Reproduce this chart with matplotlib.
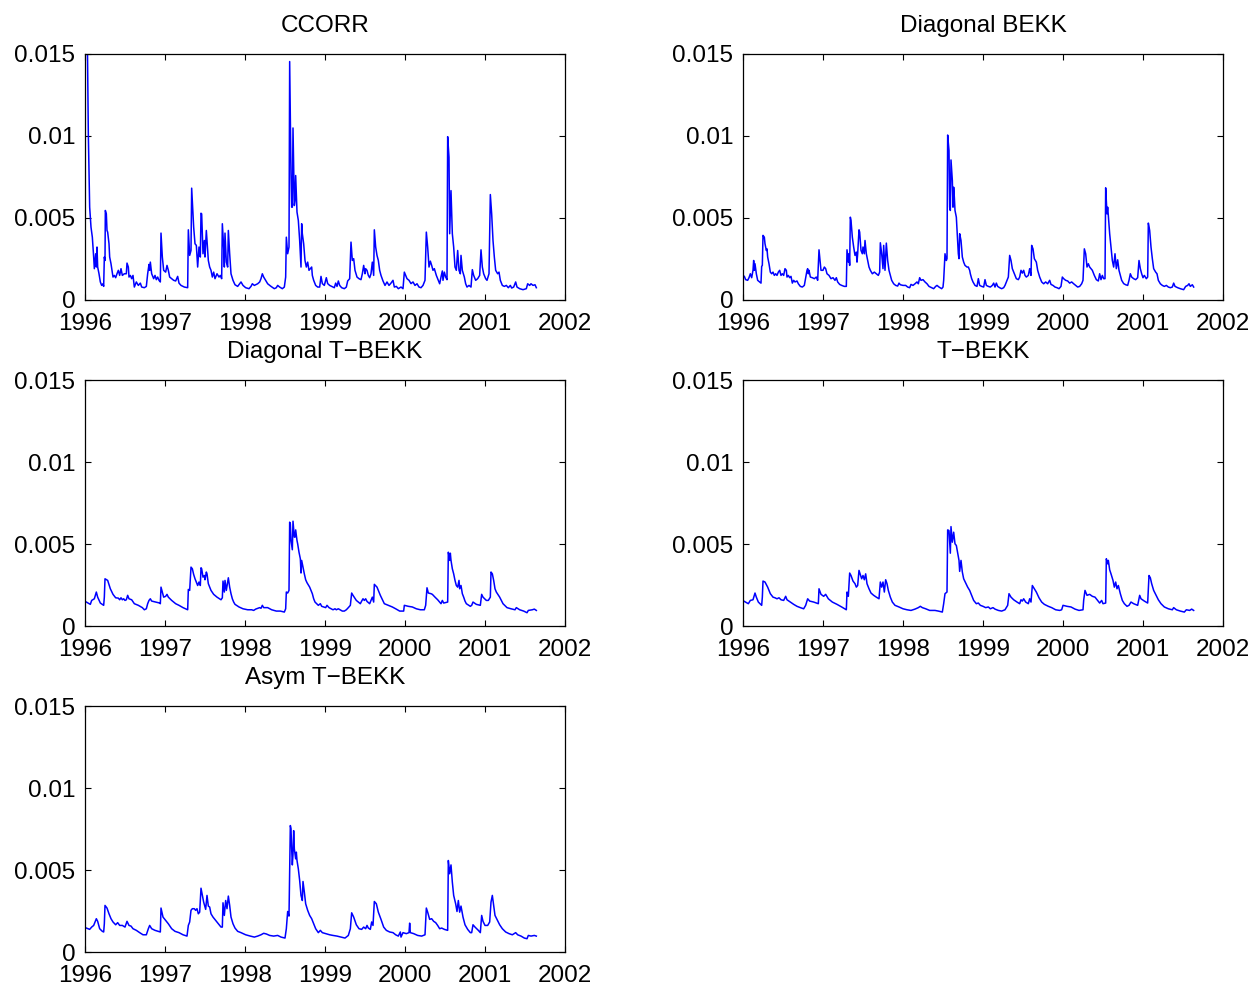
import matplotlib
matplotlib.use("Agg")
import matplotlib.pyplot as plt
import numpy as np

plt.rcParams['font.family'] = ['Liberation Sans', 'DejaVu Sans']

# Each series: (months since Jan 1996, conditional variance in units of 1e-3)
ccorr = [(0.35, 16.0), (0.5, 10.1), (0.7, 5.66), (0.9, 4.44), (1.1, 3.83), (1.3, 2.62), (1.4, 1.91), (1.6, 2.82), (1.7, 2.01), (1.8, 3.23),
         (1.9, 2.01), (2.1, 1.6), (2.3, 1.1), (2.5, 0.89), (2.7, 0.99), (2.8, 0.83), (2.9, 2.62), (3.0, 2.41), (3.05, 5.46), (3.2, 5.25),
         (3.3, 4.24), (3.4, 4.14), (3.6, 3.43), (3.7, 2.62), (3.9, 2.21), (4.2, 1.4), (4.4, 1.5), (4.6, 1.36), (4.8, 1.6), (5.0, 1.81),
         (5.2, 1.5), (5.4, 1.91), (5.6, 1.5), (5.9, 1.6), (6.2, 1.6), (6.3, 2.25), (6.5, 2.01), (6.6, 1.4), (6.8, 1.5), (7.0, 1.3),
         (7.2, 1.5), (7.4, 0.79), (7.7, 1.1), (8.0, 0.89), (8.3, 1.03), (8.5, 0.79), (8.9, 0.75), (9.2, 0.83), (9.4, 1.6), (9.6, 2.17),
         (9.7, 1.81), (9.8, 2.31), (10.0, 1.6), (10.3, 1.3), (10.5, 1.5), (10.7, 1.24), (10.9, 1.4), (11.1, 1.2), (11.3, 1.1), (11.4, 4.08),
         (11.6, 2.62), (11.8, 1.81), (12.1, 1.7), (12.3, 2.11), (12.5, 1.81), (12.7, 1.4), (13.0, 1.3), (13.3, 1.2), (13.6, 1.16), (13.9, 1.44),
         (14.1, 1.03), (14.4, 0.89), (14.9, 0.79), (15.4, 0.75), (15.5, 4.28), (15.7, 2.72), (15.9, 3.02), (16.0, 6.82), (16.1, 6.06), (16.3, 4.44),
         (16.5, 3.43), (16.7, 3.33), (16.9, 2.01), (17.1, 3.23), (17.3, 2.62), (17.4, 5.29), (17.5, 5.25), (17.7, 2.82), (17.9, 3.63), (18.0, 2.62),
         (18.2, 4.24), (18.3, 3.63), (18.5, 2.41), (18.7, 2.01), (18.9, 1.81), (19.1, 1.4), (19.3, 1.7), (19.5, 1.3), (19.8, 1.6), (20.1, 1.4),
         (20.3, 1.5), (20.5, 1.3), (20.6, 4.65), (20.8, 3.23), (20.9, 2.01), (21.0, 4.08), (21.2, 2.31), (21.4, 2.01), (21.5, 4.24), (21.7, 2.82),
         (21.9, 1.6), (22.2, 1.2), (22.5, 0.93), (22.9, 0.83), (23.4, 1.1), (23.7, 0.89), (24.1, 0.75), (24.6, 0.69), (24.9, 0.83), (25.1, 0.99),
         (25.4, 0.89), (25.9, 0.99), (26.2, 1.1), (26.4, 1.3), (26.6, 1.6), (26.8, 1.4), (27.1, 1.2), (27.4, 0.99), (27.9, 0.83), (28.4, 0.69),
         (28.7, 0.75), (28.9, 0.89), (29.2, 0.79), (29.6, 0.69), (29.9, 0.79), (30.1, 1.4), (30.2, 3.83), (30.4, 2.82), (30.6, 3.23), (30.7, 14.54),
         (30.9, 7.69), (31.0, 5.66), (31.1, 5.66), (31.2, 10.49), (31.4, 5.76), (31.5, 6.06), (31.6, 7.59), (31.8, 5.36), (32.0, 4.85), (32.2, 3.63),
         (32.4, 2.01), (32.5, 4.65), (32.6, 4.04), (32.8, 3.43), (33.0, 2.41), (33.2, 2.01), (33.4, 2.31), (33.6, 1.81), (33.8, 1.91), (34.0, 2.01),
         (34.1, 1.5), (34.3, 1.2), (34.6, 0.89), (34.9, 0.79), (35.2, 0.79), (35.4, 1.44), (35.6, 1.0), (35.9, 0.89), (36.2, 1.36), (36.4, 1.0),
         (36.7, 0.89), (37.0, 0.83), (37.4, 0.75), (37.6, 1.03), (37.8, 0.83), (38.0, 1.16), (38.2, 0.89), (38.5, 0.75), (38.9, 0.69), (39.2, 0.79),
         (39.4, 1.16), (39.7, 1.3), (39.9, 3.53), (40.1, 2.41), (40.3, 2.52), (40.5, 1.81), (40.8, 1.4), (41.1, 1.3), (41.4, 1.24), (41.6, 1.6),
         (41.8, 2.11), (42.0, 1.6), (42.1, 1.91), (42.3, 1.81), (42.5, 1.5), (42.7, 1.36), (42.9, 1.6), (43.1, 2.31), (43.3, 1.5), (43.4, 4.28),
         (43.6, 3.23), (43.8, 2.72), (44.0, 2.41), (44.2, 1.81), (44.4, 1.5), (44.7, 1.16), (45.0, 0.89), (45.3, 1.1), (45.6, 0.89), (45.9, 1.03),
         (46.2, 1.2), (46.4, 0.79), (46.7, 0.83), (47.0, 0.69), (47.4, 0.79), (47.7, 0.69), (47.9, 1.7), (48.1, 1.5), (48.3, 1.3), (48.6, 1.2),
         (48.9, 1.0), (49.2, 1.1), (49.5, 0.89), (49.8, 0.99), (50.1, 0.79), (50.4, 0.75), (50.7, 0.89), (51.0, 1.2), (51.2, 4.14), (51.4, 3.23),
         (51.6, 2.01), (51.8, 2.37), (52.0, 2.11), (52.2, 1.81), (52.4, 1.91), (52.7, 1.5), (52.9, 1.3), (53.2, 0.99), (53.4, 1.4), (53.6, 1.77),
         (53.7, 1.2), (53.9, 1.7), (54.1, 1.4), (54.3, 1.24), (54.4, 9.96), (54.6, 8.70), (54.7, 4.04), (54.9, 6.67), (55.1, 4.04), (55.3, 3.23),
         (55.5, 2.01), (55.7, 1.81), (55.9, 3.02), (56.1, 1.81), (56.3, 1.6), (56.4, 2.72), (56.6, 1.81), (56.9, 1.4), (57.1, 0.99), (57.3, 0.79),
         (57.6, 0.89), (57.9, 0.79), (58.1, 1.85), (58.3, 1.5), (58.6, 1.2), (58.9, 1.3), (59.2, 1.5), (59.4, 3.06), (59.6, 2.01), (59.8, 1.6),
         (60.1, 1.3), (60.3, 1.2), (60.6, 1.6), (60.8, 6.43), (61.0, 5.25), (61.2, 3.63), (61.4, 2.62), (61.6, 1.81), (61.9, 1.6), (62.1, 1.7),
         (62.3, 1.2), (62.6, 0.89), (62.9, 0.83), (63.2, 0.89), (63.5, 0.75), (63.8, 0.89), (64.0, 0.73), (64.3, 0.79), (64.6, 1.1), (64.8, 0.79),
         (65.2, 0.69), (65.7, 0.63), (66.2, 0.69), (66.4, 0.99), (66.7, 0.89), (66.9, 0.99), (67.2, 0.89), (67.5, 0.93), (67.7, 0.75)]

diag_bekk = [(0.2, 1.44), (0.4, 1.24), (0.7, 1.20), (0.9, 1.36), (1.1, 1.60), (1.3, 1.36), (1.5, 1.81), (1.6, 2.41), (1.7, 1.81), (1.8, 2.21),
             (2.0, 1.60), (2.2, 1.20), (2.5, 1.10), (2.7, 1.03), (2.8, 2.05), (2.9, 2.11), (3.0, 3.94), (3.2, 3.83), (3.3, 3.43), (3.5, 3.02),
             (3.6, 3.12), (3.7, 2.62), (3.9, 2.21), (4.1, 1.70), (4.3, 1.60), (4.5, 1.70), (4.7, 1.50), (4.9, 1.60), (5.1, 1.50), (5.3, 1.70),
             (5.5, 1.81), (5.7, 1.50), (5.9, 1.60), (6.1, 1.50), (6.3, 1.91), (6.5, 1.81), (6.6, 1.40), (6.8, 1.50), (7.0, 1.36), (7.2, 1.44),
             (7.4, 1.03), (7.6, 1.20), (7.8, 1.10), (8.1, 1.16), (8.3, 0.99), (8.6, 0.83), (8.9, 0.79), (9.2, 0.89), (9.4, 1.36), (9.6, 1.81),
             (9.7, 1.91), (9.8, 1.60), (9.9, 1.81), (10.1, 1.40), (10.4, 1.36), (10.7, 1.30), (11.0, 1.40), (11.2, 1.20), (11.4, 3.06), (11.5, 2.62),
             (11.7, 1.81), (12.0, 1.81), (12.2, 2.01), (12.4, 1.91), (12.6, 1.60), (12.9, 1.50), (13.2, 1.30), (13.5, 1.36), (13.8, 1.20), (14.0, 1.36),
             (14.2, 1.10), (14.5, 0.95), (14.8, 0.89), (15.2, 0.83), (15.5, 0.83), (15.6, 3.06), (15.8, 2.31), (15.9, 2.82), (16.0, 2.11), (16.1, 5.05),
             (16.2, 4.85), (16.4, 3.83), (16.6, 3.23), (16.8, 2.72), (17.0, 2.92), (17.1, 2.31), (17.2, 2.82), (17.4, 4.28), (17.5, 4.14), (17.7, 3.02),
             (17.9, 2.82), (18.0, 3.23), (18.2, 2.82), (18.3, 3.63), (18.5, 2.82), (18.7, 2.41), (18.9, 2.01), (19.1, 1.81), (19.4, 1.60), (19.7, 1.70),
             (20.0, 1.60), (20.3, 1.50), (20.5, 1.70), (20.6, 3.49), (20.8, 2.82), (21.0, 1.91), (21.1, 3.33), (21.3, 1.81), (21.5, 3.47), (21.7, 2.41),
             (21.9, 1.81), (22.1, 1.50), (22.3, 1.20), (22.6, 0.99), (22.9, 0.89), (23.2, 0.85), (23.4, 1.03), (23.6, 0.93), (24.0, 0.89), (24.4, 0.89),
             (24.7, 0.79), (25.0, 0.75), (25.2, 0.95), (25.5, 0.89), (25.8, 0.99), (26.1, 1.10), (26.3, 0.99), (26.5, 1.36), (26.7, 1.20), (27.0, 1.24),
             (27.3, 1.10), (27.6, 0.99), (27.9, 0.83), (28.3, 0.75), (28.6, 0.69), (28.9, 0.83), (29.1, 0.89), (29.4, 0.79), (29.8, 0.69), (30.0, 0.79),
             (30.1, 1.20), (30.3, 2.82), (30.5, 2.41), (30.6, 2.52), (30.7, 10.06), (30.9, 9.11), (31.0, 5.66), (31.1, 5.46), (31.2, 8.54), (31.4, 7.30),
             (31.5, 5.66), (31.6, 6.88), (31.7, 6.27), (31.8, 5.46), (32.0, 5.05), (32.2, 3.63), (32.3, 2.82), (32.4, 2.52), (32.5, 4.04), (32.7, 3.63),
             (32.9, 2.62), (33.1, 2.31), (33.3, 2.11), (33.6, 2.01), (33.8, 2.01), (34.0, 1.81), (34.1, 1.60), (34.3, 1.30), (34.5, 1.10), (34.8, 0.89),
             (35.1, 0.83), (35.3, 1.30), (35.5, 0.89), (35.8, 0.83), (36.1, 0.79), (36.3, 1.24), (36.5, 0.89), (36.8, 0.83), (37.1, 0.79), (37.4, 0.89),
             (37.6, 1.03), (37.8, 0.79), (38.0, 1.03), (38.2, 0.83), (38.5, 0.75), (38.8, 0.69), (39.1, 0.75), (39.3, 0.89), (39.6, 1.20), (39.8, 1.40),
             (40.0, 2.72), (40.2, 2.41), (40.4, 1.91), (40.7, 1.60), (41.0, 1.30), (41.3, 1.24), (41.5, 1.40), (41.7, 1.81), (41.9, 1.64), (42.1, 1.81),
             (42.3, 1.50), (42.5, 1.40), (42.8, 1.50), (43.0, 1.91), (43.2, 1.50), (43.3, 3.33), (43.5, 3.12), (43.7, 2.52), (44.0, 2.31), (44.2, 1.81),
             (44.5, 1.40), (44.8, 1.10), (45.1, 0.99), (45.4, 1.10), (45.7, 0.99), (46.0, 1.20), (46.2, 0.95), (46.5, 0.89), (46.8, 0.79), (47.1, 0.75),
             (47.4, 0.69), (47.7, 0.83), (47.9, 1.40), (48.1, 1.30), (48.4, 1.20), (48.7, 1.16), (49.0, 1.03), (49.3, 1.10), (49.6, 0.99), (49.9, 0.89),
             (50.2, 0.79), (50.5, 0.83), (50.8, 0.99), (51.0, 1.20), (51.2, 3.12), (51.4, 2.82), (51.6, 2.01), (51.8, 2.21), (52.0, 2.01), (52.2, 1.91),
             (52.4, 1.81), (52.7, 1.50), (53.0, 1.24), (53.3, 1.16), (53.5, 1.60), (53.7, 1.24), (53.9, 1.50), (54.1, 1.30), (54.3, 1.30), (54.4, 6.84),
             (54.6, 5.25), (54.7, 5.66), (54.8, 5.15), (55.0, 4.04), (55.2, 3.23), (55.4, 2.41), (55.6, 2.01), (55.8, 2.82), (56.0, 1.91), (56.2, 2.45),
             (56.4, 1.81), (56.6, 1.50), (56.8, 1.20), (57.1, 1.00), (57.4, 0.93), (57.7, 0.89), (57.9, 1.20), (58.1, 1.60), (58.3, 1.40), (58.6, 1.30),
             (58.9, 1.24), (59.2, 1.36), (59.4, 2.41), (59.6, 1.91), (59.8, 1.60), (60.0, 1.36), (60.2, 1.50), (60.5, 1.30), (60.7, 1.40), (60.8, 4.69),
             (61.0, 4.24), (61.2, 3.23), (61.4, 2.52), (61.6, 1.91), (61.9, 1.70), (62.1, 1.60), (62.3, 1.20), (62.6, 0.99), (62.9, 0.89), (63.2, 0.83),
             (63.5, 0.89), (63.8, 0.79), (64.1, 0.75), (64.4, 0.79), (64.6, 1.03), (64.8, 0.83), (65.2, 0.75), (65.6, 0.69), (66.1, 0.63), (66.4, 0.83),
             (66.7, 0.89), (66.9, 0.99), (67.1, 0.83), (67.4, 0.93), (67.6, 0.79)]

diag_tbekk = [(0.2, 1.46), (0.8, 1.32), (1.0, 1.56), (1.4, 1.66), (1.7, 2.07), (1.9, 1.76), (2.3, 1.40), (2.8, 1.26), (2.9, 1.76), (3.0, 2.88),
              (3.4, 2.78), (3.8, 2.27), (4.2, 1.93), (4.6, 1.72), (5.0, 1.70), (5.2, 1.60), (5.4, 1.72), (5.6, 1.60), (5.8, 1.66), (6.0, 1.56),
              (6.2, 1.60), (6.4, 1.87), (6.6, 1.66), (7.0, 1.60), (7.4, 1.36), (8.0, 1.26), (8.6, 1.12), (8.9, 0.99), (9.2, 1.05), (9.4, 1.36),
              (9.6, 1.56), (9.8, 1.66), (10.0, 1.52), (10.6, 1.46), (11.2, 1.40), (11.3, 1.36), (11.4, 2.37), (11.6, 2.07), (11.8, 1.76), (12.1, 1.81),
              (12.3, 1.93), (12.5, 1.76), (13.0, 1.56), (13.6, 1.36), (14.1, 1.26), (14.7, 1.12), (15.4, 0.99), (15.5, 2.23), (15.7, 2.17), (15.9, 3.59),
              (16.1, 3.49), (16.3, 3.14), (16.5, 2.88), (16.7, 2.68), (16.9, 2.47), (17.1, 2.68), (17.3, 2.47), (17.4, 3.55), (17.5, 3.49), (17.7, 2.98),
              (17.9, 3.08), (18.0, 2.82), (18.2, 3.29), (18.3, 3.18), (18.5, 2.58), (18.7, 2.37), (18.9, 2.17), (19.3, 1.93), (19.8, 1.76), (20.4, 1.60),
              (20.6, 1.72), (20.7, 2.74), (20.9, 2.07), (21.0, 2.78), (21.2, 2.17), (21.4, 2.68), (21.5, 2.94), (21.7, 2.37), (21.9, 1.97), (22.1, 1.66),
              (22.3, 1.46), (22.5, 1.32), (23.1, 1.16), (23.7, 1.05), (24.4, 0.99), (25.0, 0.99), (25.3, 0.95), (25.6, 1.03), (26.2, 1.12), (26.4, 1.08),
              (26.6, 1.26), (26.8, 1.12), (27.4, 1.12), (28.0, 0.99), (28.7, 0.91), (29.3, 0.91), (29.9, 0.85), (30.1, 1.05), (30.2, 2.07), (30.4, 2.01),
              (30.6, 2.17), (30.7, 6.33), (30.8, 6.23), (30.9, 5.21), (31.1, 4.65), (31.2, 6.39), (31.4, 5.42), (31.5, 5.42), (31.6, 5.86), (31.8, 5.21),
              (31.9, 5.01), (32.1, 4.50), (32.3, 4.10), (32.4, 3.23), (32.5, 4.00), (32.7, 3.59), (32.9, 3.18), (33.1, 2.82), (33.3, 2.64), (33.7, 2.37),
              (33.9, 2.17), (34.1, 1.97), (34.3, 1.66), (34.5, 1.46), (35.0, 1.26), (35.3, 1.36), (35.5, 1.20), (36.1, 1.12), (36.3, 1.26), (36.6, 1.12),
              (37.2, 0.99), (37.5, 1.05), (37.7, 0.99), (38.0, 1.05), (38.6, 0.91), (38.9, 0.91), (39.2, 0.99), (39.5, 1.12), (39.8, 1.26), (40.0, 2.01),
              (40.2, 1.87), (40.7, 1.56), (41.3, 1.36), (41.5, 1.52), (41.7, 1.66), (41.9, 1.56), (42.1, 1.66), (42.3, 1.50), (42.7, 1.36), (42.9, 1.56),
              (43.1, 1.76), (43.3, 1.46), (43.4, 2.54), (43.8, 2.37), (44.3, 1.87), (44.9, 1.36), (45.5, 1.26), (46.1, 1.16), (46.6, 1.05), (47.2, 0.91),
              (47.8, 0.91), (47.9, 1.26), (48.5, 1.20), (49.1, 1.16), (49.7, 1.05), (50.3, 0.99), (50.9, 0.99), (51.1, 1.26), (51.3, 2.33), (51.5, 2.01),
              (51.9, 1.97), (52.1, 1.93), (52.5, 1.76), (52.9, 1.60), (53.4, 1.36), (53.6, 1.56), (53.8, 1.40), (54.4, 1.46), (54.5, 4.50), (54.7, 4.00),
              (54.8, 4.44), (54.9, 4.00), (55.1, 3.49), (55.3, 3.18), (55.5, 2.78), (55.7, 2.47), (55.9, 2.37), (56.1, 2.78), (56.2, 2.27), (56.4, 2.47),
              (56.6, 1.97), (56.8, 1.76), (57.0, 1.52), (57.2, 1.36), (57.8, 1.20), (58.0, 1.26), (58.2, 1.46), (58.7, 1.32), (59.3, 1.26), (59.5, 1.93),
              (59.7, 1.76), (60.2, 1.56), (60.5, 1.56), (60.8, 1.76), (60.9, 3.29), (61.1, 3.18), (61.3, 2.78), (61.5, 2.27), (61.7, 2.07), (62.2, 1.76),
              (62.7, 1.36), (63.3, 1.12), (63.9, 1.05), (64.5, 0.99), (64.7, 1.12), (65.2, 0.99), (65.8, 0.91), (66.3, 0.81), (66.5, 0.95), (67.1, 0.99),
              (67.4, 1.03), (67.7, 0.95)]

tbekk = [(0.2, 1.50), (0.8, 1.36), (1.1, 1.56), (1.5, 1.60), (1.8, 2.01), (2.0, 1.76), (2.3, 1.46), (2.8, 1.26), (2.9, 1.76), (3.0, 2.74),
         (3.3, 2.68), (3.7, 2.37), (4.1, 1.97), (4.5, 1.76), (4.8, 1.72), (5.1, 1.66), (5.4, 1.72), (5.7, 1.60), (6.1, 1.56), (6.4, 1.81),
         (6.6, 1.60), (7.1, 1.46), (7.6, 1.32), (8.1, 1.20), (8.6, 1.12), (9.1, 1.05), (9.4, 1.26), (9.7, 1.66), (10.0, 1.52), (10.6, 1.46),
         (11.3, 1.36), (11.4, 2.27), (11.7, 1.93), (12.1, 1.81), (12.4, 1.93), (12.8, 1.66), (13.4, 1.46), (14.1, 1.32), (14.8, 1.16), (15.5, 0.99),
         (15.6, 2.07), (15.8, 1.81), (16.0, 3.23), (16.2, 3.08), (16.5, 2.74), (16.8, 2.58), (17.0, 2.37), (17.2, 2.47), (17.4, 3.39), (17.6, 3.14),
         (17.8, 2.88), (18.0, 3.08), (18.2, 2.82), (18.4, 3.18), (18.6, 2.58), (18.9, 2.27), (19.2, 2.01), (19.6, 1.87), (20.0, 1.76), (20.4, 1.66),
         (20.6, 2.68), (20.8, 2.37), (21.0, 2.68), (21.2, 2.07), (21.4, 2.82), (21.6, 2.58), (21.8, 2.17), (22.1, 1.76), (22.4, 1.46), (22.8, 1.26),
         (23.4, 1.16), (24.0, 1.05), (24.6, 0.99), (25.2, 0.95), (25.8, 1.03), (26.3, 1.12), (26.6, 1.20), (26.9, 1.12), (27.4, 1.05), (28.0, 0.95),
         (28.8, 0.95), (29.3, 0.91), (29.9, 0.85), (30.1, 1.36), (30.3, 1.97), (30.6, 2.07), (30.7, 5.86), (30.9, 5.82), (31.1, 4.44), (31.2, 6.06),
         (31.4, 5.11), (31.6, 5.72), (31.8, 5.01), (32.0, 4.91), (32.2, 4.44), (32.4, 4.00), (32.5, 3.33), (32.7, 4.00), (32.9, 3.29), (33.1, 2.88),
         (33.4, 2.62), (33.7, 2.37), (34.0, 2.17), (34.3, 1.87), (34.6, 1.56), (35.0, 1.36), (35.3, 1.40), (35.6, 1.26), (36.0, 1.20), (36.4, 1.12),
         (36.8, 1.16), (37.1, 1.05), (37.5, 1.12), (37.8, 1.03), (38.3, 0.95), (38.8, 0.91), (39.3, 0.99), (39.7, 1.26), (39.9, 1.97), (40.2, 1.76),
         (40.6, 1.60), (41.1, 1.46), (41.5, 1.36), (41.7, 1.60), (41.9, 1.52), (42.1, 1.66), (42.4, 1.46), (42.8, 1.36), (43.0, 1.66), (43.2, 1.46),
         (43.4, 2.47), (43.7, 2.27), (44.0, 2.07), (44.4, 1.72), (44.8, 1.46), (45.2, 1.32), (45.8, 1.20), (46.3, 1.12), (46.9, 0.99), (47.5, 0.95),
         (47.8, 0.99), (48.0, 1.26), (48.6, 1.20), (49.2, 1.16), (49.8, 1.03), (50.4, 0.95), (51.0, 0.99), (51.1, 1.56), (51.3, 2.17), (51.6, 1.87),
         (52.0, 1.93), (52.4, 1.81), (52.8, 1.76), (53.2, 1.56), (53.5, 1.40), (53.8, 1.56), (54.0, 1.36), (54.4, 1.40), (54.5, 4.10), (54.7, 3.79),
         (54.8, 4.00), (55.0, 3.43), (55.2, 3.18), (55.5, 2.78), (55.7, 2.37), (55.9, 2.68), (56.1, 2.27), (56.3, 2.47), (56.6, 1.97), (56.9, 1.56),
         (57.2, 1.36), (57.6, 1.20), (57.9, 1.26), (58.2, 1.46), (58.6, 1.36), (59.2, 1.26), (59.5, 1.87), (59.7, 1.66), (60.2, 1.52), (60.7, 1.40),
         (60.9, 3.08), (61.1, 2.94), (61.3, 2.58), (61.6, 2.17), (61.9, 1.93), (62.3, 1.60), (62.7, 1.36), (63.2, 1.16), (63.8, 1.05), (64.4, 0.99),
         (64.6, 1.12), (65.0, 0.99), (65.6, 0.91), (66.2, 0.85), (66.5, 0.99), (67.0, 0.95), (67.3, 1.03), (67.6, 0.95)]

asym_tbekk = [(0.2, 1.46), (0.7, 1.38), (1.0, 1.52), (1.3, 1.62), (1.5, 1.83), (1.7, 2.03), (1.9, 1.87), (2.2, 1.42), (2.6, 1.26), (2.8, 1.22),
              (2.9, 1.72), (3.0, 2.84), (3.3, 2.68), (3.6, 2.33), (3.9, 2.03), (4.2, 1.83), (4.6, 1.66), (4.9, 1.79), (5.2, 1.62), (5.6, 1.62),
              (6.0, 1.52), (6.3, 1.87), (6.6, 1.62), (6.9, 1.58), (7.2, 1.42), (7.7, 1.32), (8.2, 1.18), (8.7, 1.05), (9.2, 1.05), (9.5, 1.42),
              (9.7, 1.62), (10.0, 1.42), (10.5, 1.32), (11.0, 1.26), (11.3, 1.22), (11.4, 2.68), (11.7, 2.13), (12.1, 1.93), (12.5, 1.72), (13.0, 1.42),
              (13.5, 1.26), (14.1, 1.18), (14.7, 1.05), (15.3, 0.97), (15.5, 1.62), (15.7, 1.83), (15.9, 2.54), (16.1, 2.64), (16.4, 2.64), (16.6, 2.54),
              (16.8, 2.64), (17.0, 2.33), (17.2, 2.43), (17.4, 3.89), (17.6, 3.45), (17.8, 3.04), (18.1, 2.60), (18.3, 3.45), (18.5, 2.80), (18.7, 2.74),
              (18.9, 2.33), (19.2, 2.13), (19.6, 1.93), (20.0, 1.72), (20.4, 1.52), (20.6, 1.52), (20.7, 3.00), (20.9, 2.23), (21.1, 3.14), (21.3, 2.64),
              (21.5, 3.41), (21.7, 2.84), (21.9, 2.13), (22.2, 1.72), (22.5, 1.46), (22.9, 1.26), (23.4, 1.18), (24.1, 1.05), (24.8, 0.97), (25.4, 0.91),
              (25.9, 0.97), (26.4, 1.05), (26.8, 1.14), (27.2, 1.10), (27.7, 1.01), (28.3, 0.97), (28.9, 1.01), (29.4, 0.91), (30.0, 0.85), (30.2, 1.42),
              (30.4, 2.47), (30.6, 2.19), (30.8, 7.71), (30.9, 7.51), (31.0, 6.29), (31.1, 5.31), (31.2, 5.98), (31.3, 7.40), (31.4, 6.29), (31.6, 5.68),
              (31.7, 6.09), (31.8, 5.58), (32.0, 5.07), (32.2, 4.36), (32.4, 3.45), (32.6, 3.14), (32.7, 4.30), (32.9, 3.65), (33.1, 2.94), (33.4, 2.54),
              (33.7, 2.23), (34.0, 2.03), (34.3, 1.72), (34.6, 1.42), (35.0, 1.18), (35.3, 1.32), (35.6, 1.18), (36.1, 1.12), (36.7, 1.05), (37.2, 1.01),
              (37.8, 0.97), (38.4, 0.91), (39.0, 0.85), (39.5, 1.01), (39.8, 1.42), (40.0, 2.39), (40.3, 2.13), (40.7, 1.66), (41.1, 1.42), (41.5, 1.38),
              (41.8, 1.52), (42.1, 1.42), (42.3, 1.62), (42.5, 1.46), (42.8, 1.38), (43.0, 1.83), (43.2, 1.62), (43.4, 3.08), (43.7, 2.94), (44.0, 2.43),
              (44.4, 1.99), (44.8, 1.52), (45.2, 1.32), (45.7, 1.22), (46.2, 1.18), (46.6, 1.05), (47.0, 0.97), (47.3, 1.22), (47.4, 0.91), (47.7, 1.18),
              (48.2, 1.12), (48.6, 1.18), (48.7, 1.76), (48.8, 1.18), (49.3, 1.12), (49.9, 1.01), (50.5, 0.97), (51.0, 1.05), (51.2, 2.68), (51.4, 2.43),
              (51.7, 1.99), (52.0, 2.03), (52.3, 1.87), (52.6, 1.79), (52.9, 1.62), (53.2, 1.42), (53.5, 1.46), (53.9, 1.38), (54.4, 1.32), (54.5, 5.58),
              (54.7, 4.77), (54.9, 5.31), (55.1, 4.26), (55.3, 3.45), (55.6, 2.94), (55.8, 2.47), (56.0, 3.14), (56.2, 2.43), (56.4, 2.80), (56.7, 2.13),
              (57.0, 1.66), (57.4, 1.38), (57.8, 1.18), (58.0, 1.18), (58.2, 1.66), (58.5, 1.52), (59.0, 1.32), (59.3, 1.18), (59.5, 2.23), (59.7, 1.87),
              (60.0, 1.62), (60.4, 1.62), (60.7, 1.83), (60.9, 3.04), (61.1, 3.45), (61.3, 2.84), (61.5, 2.23), (61.8, 1.99), (62.2, 1.66), (62.6, 1.42),
              (63.1, 1.22), (63.6, 1.12), (64.1, 1.05), (64.6, 1.18), (64.9, 1.05), (65.4, 0.97), (65.9, 0.85), (66.3, 0.81), (66.5, 1.01), (66.9, 0.97),
              (67.4, 1.01), (67.7, 0.97)]

titles = ["CCORR", "Diagonal BEKK", "Diagonal T\u2212BEKK", "T\u2212BEKK", "Asym T\u2212BEKK"]
series = [ccorr, diag_bekk, diag_tbekk, tbekk, asym_tbekk]
year_ticks = [1996, 1997, 1998, 1999, 2000, 2001, 2002]
y_ticks = [0, 0.005, 0.01, 0.015]
y_tick_labels = ["0", "0.005", "0.01", "0.015"]

W, H = 1255, 988
fig = plt.figure(figsize=(W / 100, H / 100), dpi=100)

# axes boxes in pixels: (left, top, right, bottom)
boxes = [(85, 54, 565, 300), (743, 54, 1223, 300),
         (85, 380, 565, 626), (743, 380, 1223, 626),
         (85, 706, 565, 952)]

FS = 17.5
for title, data, (l, t, r, b) in zip(titles, series, boxes):
    ax = fig.add_axes([l / W, 1 - b / H, (r - l) / W, (b - t) / H])
    arr = np.array(data)
    x = 1996 + arr[:, 0] / 12.0
    y = arr[:, 1] * 1e-3
    ax.plot(x, y, color=(0, 0, 1), lw=1.1)
    ax.set_xlim(1996, 2002)
    ax.set_ylim(0, 0.015)
    ax.set_xticks(year_ticks)
    ax.set_xticklabels([str(v) for v in year_ticks])
    ax.set_yticks(y_ticks)
    ax.set_yticklabels(y_tick_labels)
    ax.tick_params(direction='in', length=4.5, width=0.8, top=True, right=True,
                   labelsize=FS)
    ax.tick_params(axis='y', pad=7)
    ax.tick_params(axis='x', pad=9.5)
    for s in ax.spines.values():
        s.set_linewidth(0.9)
    ax.set_title(title, fontsize=FS, pad=16)

fig.savefig("out.png", dpi=100)
